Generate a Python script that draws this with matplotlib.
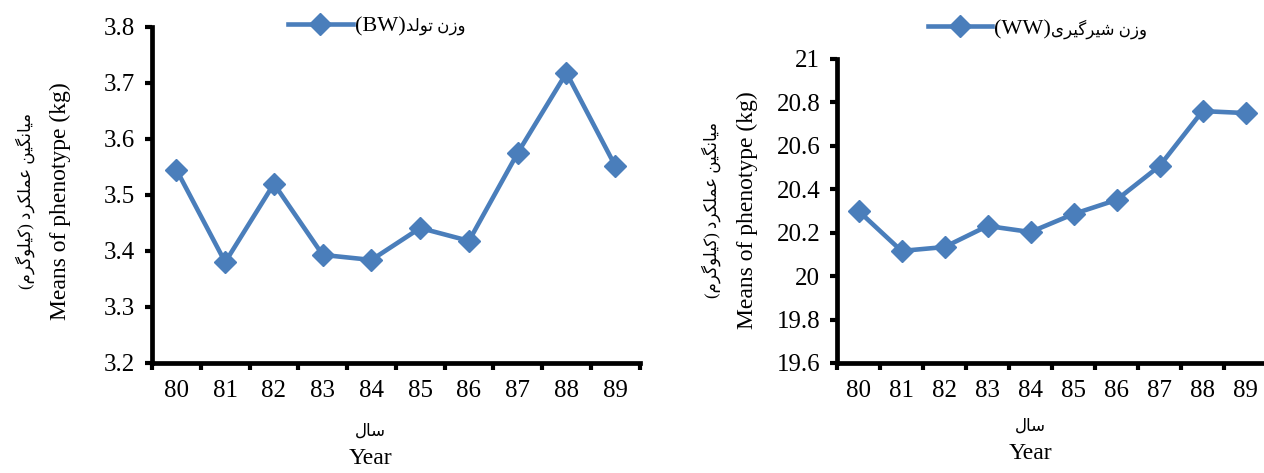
import matplotlib.pyplot as plt
from matplotlib.ticker import FormatStrFormatter, MultipleLocator, FixedLocator, NullFormatter

years = ['80', '81', '82', '83', '84', '85', '86', '87', '88', '89']
bw = [3.545, 3.380, 3.520, 3.393, 3.384, 3.441, 3.418, 3.575, 3.718, 3.552]
ww = [20.30, 20.116, 20.134, 20.231, 20.203, 20.286, 20.351, 20.507, 20.760, 20.751]

# Arabic/Persian presentation forms: (isolated, final, initial, medial)
FORMS = {
    'ا': ('\uFE8D', '\uFE8E', '\uFE8D', '\uFE8E'),
    'ت': ('\uFE95', '\uFE96', '\uFE97', '\uFE98'),
    'د': ('\uFEA9', '\uFEAA', '\uFEA9', '\uFEAA'),
    'ر': ('\uFEAD', '\uFEAE', '\uFEAD', '\uFEAE'),
    'ز': ('\uFEAF', '\uFEB0', '\uFEAF', '\uFEB0'),
    'س': ('\uFEB1', '\uFEB2', '\uFEB3', '\uFEB4'),
    'ش': ('\uFEB5', '\uFEB6', '\uFEB7', '\uFEB8'),
    'ع': ('\uFEC9', '\uFECA', '\uFECB', '\uFECC'),
    'ل': ('\uFEDD', '\uFEDE', '\uFEDF', '\uFEE0'),
    'م': ('\uFEE1', '\uFEE2', '\uFEE3', '\uFEE4'),
    'ن': ('\uFEE5', '\uFEE6', '\uFEE7', '\uFEE8'),
    'و': ('\uFEED', '\uFEEE', '\uFEED', '\uFEEE'),
    'ک': ('\uFB8E', '\uFB8F', '\uFB90', '\uFB91'),
    'گ': ('\uFB92', '\uFB93', '\uFB94', '\uFB95'),
    'ی': ('\uFBFC', '\uFBFD', '\uFBFE', '\uFBFF'),
}
RIGHT_ONLY = set('ادرزو')


def fa(text):
    # shape letters and put them in visual (left to right) order
    out = []
    for i, c in enumerate(text):
        if c not in FORMS:
            out.append(c)
            continue
        prev = text[i - 1] if i > 0 else ''
        nxt = text[i + 1] if i + 1 < len(text) else ''
        jp = prev in FORMS and prev not in RIGHT_ONLY
        jn = nxt in FORMS and c not in RIGHT_ONLY
        iso, fin, ini, med = FORMS[c]
        out.append(med if (jp and jn) else fin if jp else ini if jn else iso)
    s = ''.join(reversed(out))
    return s.translate(str.maketrans('()', ')('))


FAM = ['Liberation Serif', 'DejaVu Sans']
BLUE = '#4A7EBB'

fig = plt.figure(figsize=(12.64, 4.73), dpi=100)
legends = []


def panel(rect, values, ymin, ymax, step, fmt, leg_tag, leg_fa, leg_pos, ylab_x, ylab_y, xlab_x, xlab_y):
    ax = fig.add_axes(rect)
    x = range(len(years))
    ax.plot(x, values, color=BLUE, lw=3.3, marker='D', ms=11, label=leg_tag)
    ax.set_xlim(-0.5, len(years) - 0.5)
    ax.set_ylim(ymin, ymax)
    ax.yaxis.set_major_locator(MultipleLocator(step))
    ax.yaxis.set_major_formatter(FormatStrFormatter(fmt))
    ax.xaxis.set_major_locator(FixedLocator([i - 0.5 for i in range(len(years) + 1)]))
    ax.xaxis.set_major_formatter(NullFormatter())
    ax.set_xticks(list(x), minor=True)
    ax.set_xticklabels(years, minor=True)
    ax.tick_params(which='major', direction='out', length=5, width=3)
    ax.tick_params(axis='y', labelsize=18, pad=7)
    ax.tick_params(axis='x', which='minor', length=0, pad=12, labelsize=18)
    for lab in ax.get_xticklabels(minor=True) + ax.get_yticklabels():
        lab.set_family(FAM)
    for s in ['top', 'right']:
        ax.spines[s].set_visible(False)
    for s in ['left', 'bottom']:
        ax.spines[s].set_linewidth(3.4)
    leg = ax.legend(loc='center left', bbox_to_anchor=leg_pos, bbox_transform=fig.transFigure,
                    frameon=False, handlelength=2.9, handletextpad=0.1,
                    borderpad=0, borderaxespad=0,
                    prop={'family': FAM, 'size': 16})
    legends.append((leg, leg_fa))
    fig.text(ylab_x, ylab_y, fa('میانگین عملکرد (کیلوگرم)'), rotation=90,
             ha='center', va='center', family=FAM, fontsize=12)
    fig.text(ylab_x + 0.028, ylab_y, 'Means of phenotype (kg)', rotation=90,
             ha='center', va='center', family=FAM, fontsize=17)
    fig.text(xlab_x, xlab_y, fa('سال'), ha='center', va='center', family=FAM, fontsize=12)
    fig.text(xlab_x, xlab_y - 0.056, 'Year', ha='center', va='center', family=FAM, fontsize=17)
    return ax


panel([0.1203, 0.2326, 0.3857, 0.7104], bw, 3.2, 3.8, 0.1, '%.1f',
      '(BW)', fa('وزن تولد'), (0.228, 0.945), 0.020, 0.575, 0.293, 0.087)
panel([0.6622, 0.2326, 0.3402, 0.6427], ww, 19.6, 21.0, 0.2, '%g',
      '(WW)', fa('وزن شیرگیری'), (0.734, 0.939), 0.563, 0.555, 0.815, 0.097)

# Persian part of each legend entry sits right after the Latin tag
fig.canvas.draw()
inv = fig.transFigure.inverted()
for leg, txt in legends:
    bb = leg.get_texts()[0].get_window_extent()
    x0, y0 = inv.transform((bb.x1, (bb.y0 + bb.y1) / 2))
    fig.text(x0, y0, txt, ha='left', va='center', family=FAM, fontsize=12)

fig.savefig('out.png', dpi=100)
